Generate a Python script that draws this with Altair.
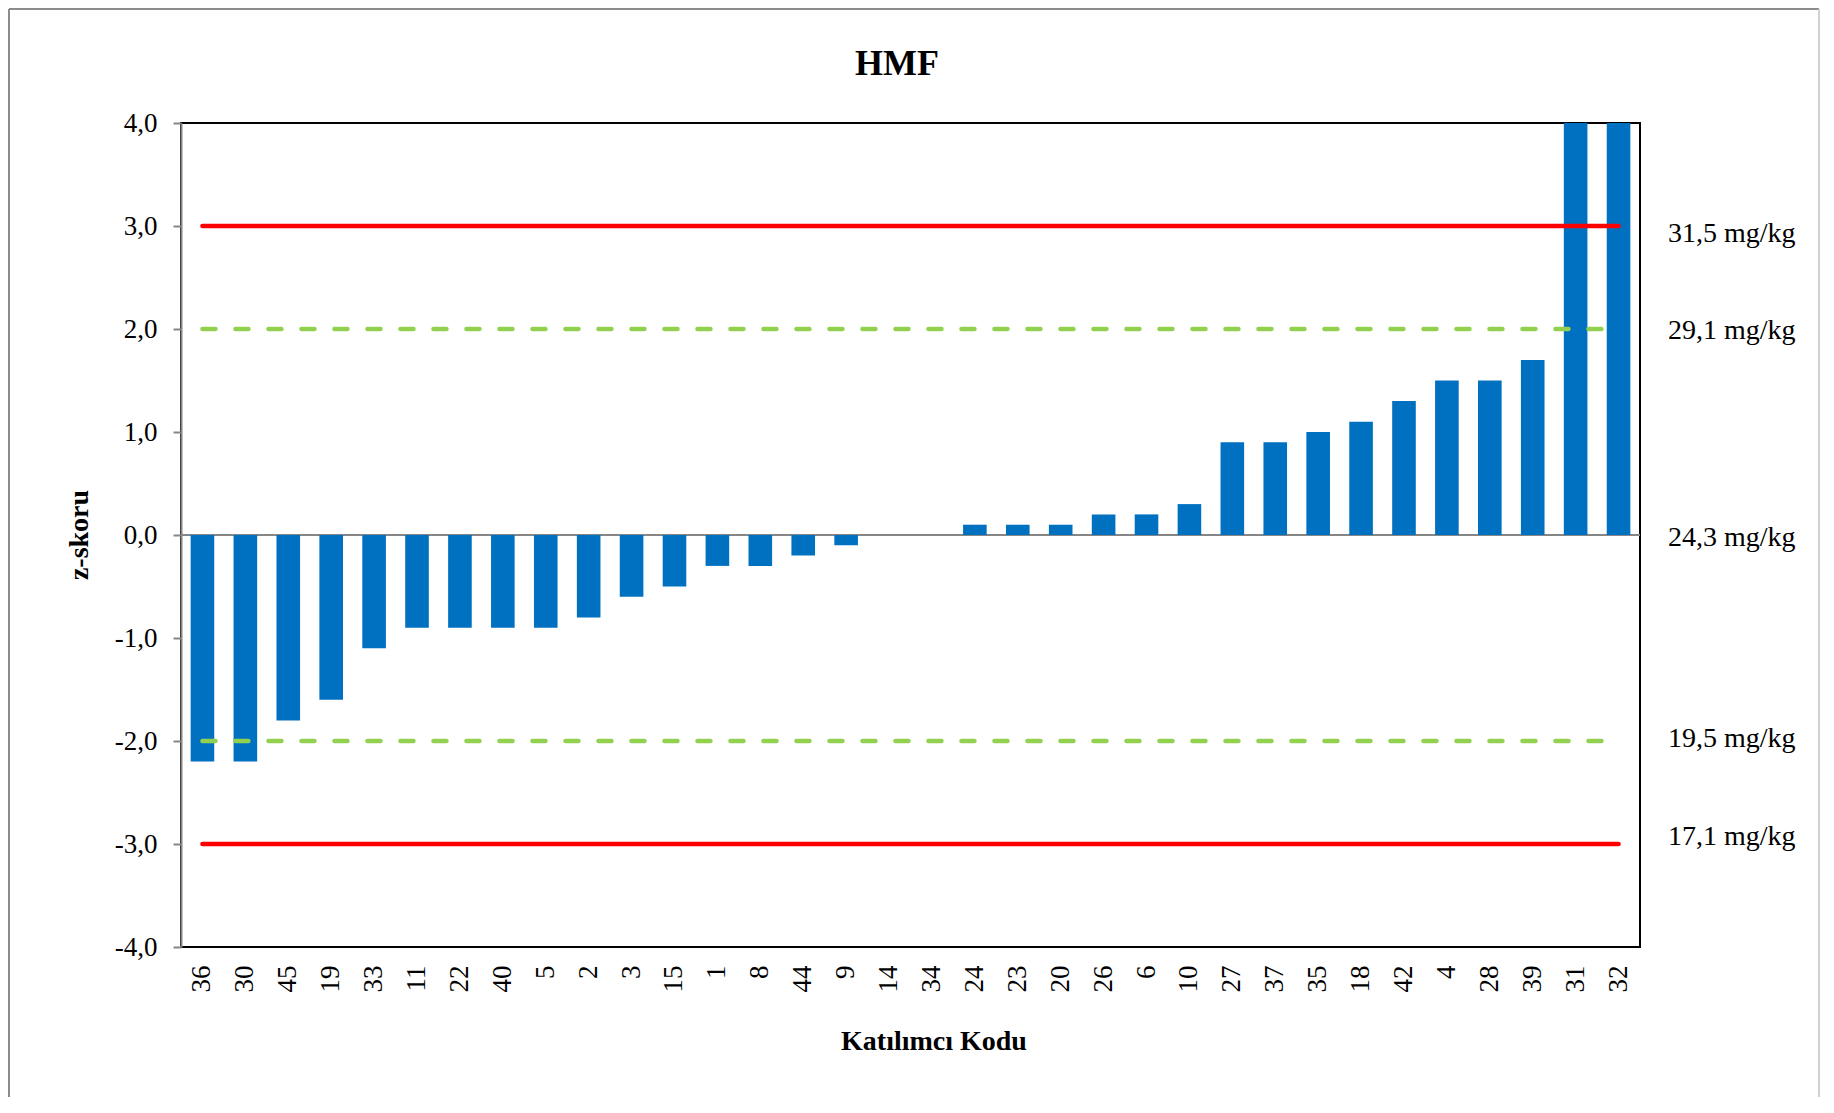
import altair as alt
import pandas as pd

# ---- data ----
codes = ["36", "30", "45", "19", "33", "11", "22", "40", "5", "2", "3", "15", "1", "8", "44", "9",
         "14", "34", "24", "23", "20", "26", "6", "10", "27", "37", "35", "18", "42", "4", "28", "39",
         "31", "32"]
zscores = [-2.2, -2.2, -1.8, -1.6, -1.1, -0.9, -0.9, -0.9, -0.9, -0.8, -0.6, -0.5, -0.3, -0.3, -0.2, -0.1,
           0.0, 0.0, 0.1, 0.1, 0.1, 0.2, 0.2, 0.3, 0.9, 0.9, 1.0, 1.1, 1.3, 1.5, 1.5, 1.7,
           4.0, 4.0]
limit_red = [3.0, -3.0]
limit_green = [2.0, -2.0]
conc_z = [3.0, 2.0, 0.0, -2.0, -3.0]
conc_labels = ["31,5 mg/kg", "29,1 mg/kg", "24,3 mg/kg", "19,5 mg/kg", "17,1 mg/kg"]
y_ticks = [-4, -3, -2, -1, 0, 1, 2, 3, 4]
title_text = "HMF"
x_title = "Katılımcı Kodu"
y_title = "z-skoru"

# ---- style ----
FONT = "Liberation Serif"
W, H = 1459, 824
BLUE = "#0070C0"
RED = "#FF0000"
GREEN = "#92D050"
GRAY = "#868686"
label_dy = [8, 2, 3, -2, -7]

bars_df = pd.DataFrame({"code": codes, "z": zscores})
red_df = pd.DataFrame({"start": codes[0], "end": codes[-1], "z": limit_red})
green_df = pd.DataFrame({"start": codes[0], "end": codes[-1], "z": limit_green})
one = pd.DataFrame({"k": [0]})

xscale = alt.Scale(domain=codes, paddingInner=0.45, paddingOuter=0.225)
yscale = alt.Scale(domain=[-4, 4], nice=False)

x_enc = alt.X("code:N", sort=codes, scale=xscale, title=None,
              axis=alt.Axis(labelAngle=-90, labelFont=FONT, labelFontSize=27, labelColor="black",
                            labelPadding=18, ticks=False, domain=False, grid=False))
y_enc = alt.Y("z:Q", scale=yscale, title=None,
              axis=alt.Axis(values=y_ticks, grid=False, domainColor=GRAY, domainWidth=2,
                            tickColor=GRAY, tickWidth=2, tickSize=8, labelPadding=16,
                            labelFont=FONT, labelFontSize=27, labelColor="black",
                            labelExpr="(datum.value < 0 ? '-' : '') + replace(format(abs(datum.value), '.1f'), '.', ',')"))

zero = alt.Chart(one).mark_rule(color=GRAY, strokeWidth=2).encode(
    y=alt.datum(0, scale=yscale), x=alt.value(0), x2=alt.value(W))

bars = alt.Chart(bars_df).mark_bar(color=BLUE, clip=True).encode(x=x_enc, y=y_enc)

green = alt.Chart(green_df).mark_rule(color=GREEN, strokeWidth=4.5, strokeDash=[13, 20],
                                      strokeCap="round").encode(
    x=alt.X("start:N", sort=codes, scale=xscale), x2="end:N", y=alt.Y("z:Q", scale=yscale))
red = alt.Chart(red_df).mark_rule(color=RED, strokeWidth=4.5, strokeCap="round").encode(
    x=alt.X("start:N", sort=codes, scale=xscale), x2="end:N", y=alt.Y("z:Q", scale=yscale))

labels = []
for z, t, d in zip(conc_z, conc_labels, label_dy):
    ldf = pd.DataFrame({"z": [z], "t": [t]})
    labels.append(alt.Chart(ldf).mark_text(font=FONT, fontSize=28, align="left", baseline="middle",
                                           dy=d, color="black").encode(
        x=alt.value(1487), y=alt.Y("z:Q", scale=yscale), text="t:N"))

title = alt.Chart(one).mark_text(font=FONT, fontSize=36, fontWeight="bold", align="center",
                                 baseline="alphabetic", color="black").encode(
    x=alt.value(716), y=alt.value(-48), text=alt.value(title_text))
xtitle = alt.Chart(one).mark_text(font=FONT, fontSize=28, fontWeight="bold", align="center",
                                  baseline="alphabetic", color="black").encode(
    x=alt.value(753), y=alt.value(927), text=alt.value(x_title))
ytitle = alt.Chart(one).mark_text(font=FONT, fontSize=28, fontWeight="bold", align="center",
                                  baseline="alphabetic", angle=270, color="black").encode(
    x=alt.value(-93), y=alt.value(412), text=alt.value(y_title))

border_left = alt.Chart(one).mark_rule(color="#8c8c8c", strokeWidth=2).encode(
    x=alt.value(-172), y=alt.value(-114), y2=alt.value(1000))
border_top = alt.Chart(one).mark_rule(color="#8c8c8c", strokeWidth=2).encode(
    x=alt.value(-172), x2=alt.value(1638), y=alt.value(-114))
border_right = alt.Chart(one).mark_rule(color="#d0d0d0", strokeWidth=2).encode(
    x=alt.value(1638), y=alt.value(-114), y2=alt.value(1000))

chart = alt.layer(
    border_left, border_top, border_right,
    zero, bars, green, red, *labels, title, xtitle, ytitle
).properties(
    width=W, height=H,
    autosize=alt.AutoSizeParams(type="none"),
    padding={"left": 173, "top": 115, "right": 180, "bottom": 150},
    background="white",
).configure_view(stroke="black", strokeWidth=2)

chart.save("out.html", embed_options={"renderer": "svg", "actions": False})
